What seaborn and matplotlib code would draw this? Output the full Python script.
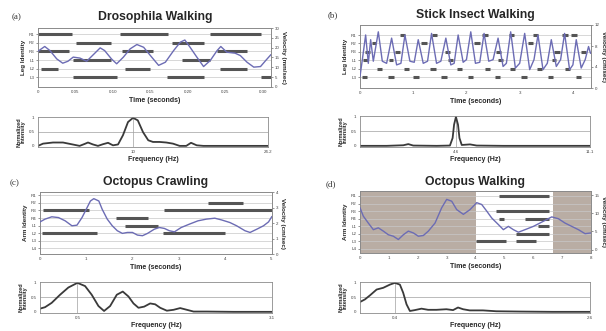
import matplotlib
matplotlib.use("Agg")
import matplotlib.pyplot as plt
import seaborn as sns

sns.set_style("white")
plt.rcParams['font.family'] = ['Liberation Sans', 'DejaVu Sans']

# ---- (a) Drosophila walking ----
dros_legs = ["L3", "L2", "L1", "R3", "R2", "R1"]
dros_bars = [(6, 0.0, 0.045), (6, 0.110, 0.174), (6, 0.230, 0.297),
             (5, 0.051, 0.098), (5, 0.179, 0.221),
             (4, 0.0, 0.042), (4, 0.112, 0.154), (4, 0.239, 0.279),
             (3, 0.047, 0.098), (3, 0.192, 0.230),
             (2, 0.004, 0.027), (2, 0.116, 0.150), (2, 0.243, 0.279),
             (1, 0.047, 0.105), (1, 0.172, 0.221), (1, 0.297, 0.311)]
dros_t = [0, 0.009, 0.016, 0.025, 0.033, 0.040, 0.047, 0.056, 0.065, 0.074, 0.083, 0.089,
          0.098, 0.105, 0.114, 0.123, 0.132, 0.141, 0.150, 0.161, 0.170, 0.181, 0.190, 0.196,
          0.203, 0.212, 0.221, 0.230, 0.239, 0.244, 0.252, 0.263, 0.270, 0.279, 0.288, 0.297,
          0.304, 0.311]
dros_v = [18.2, 20.6, 18.5, 14.3, 12.1, 13.1, 15.2, 14.7, 13.1, 16.5, 19.9, 18.5, 14.3, 11.8,
          15.2, 19.4, 21.6, 20.2, 16.0, 11.0, 12.6, 18.5, 22.8, 23.9, 20.2, 15.2, 10.4, 13.5,
          18.5, 20.6, 17.7, 17.2, 16.0, 12.6, 10.1, 10.4, 13.5, 16.5]
dros_f = [0, 0.53, 1.58, 2.63, 3.51, 4.38, 4.91, 5.26, 5.79, 6.31, 6.84, 7.37, 7.89, 8.42,
          8.94, 9.47, 10.0, 10.5, 11.05, 11.6, 12.1, 12.8, 13.5, 14.2, 14.9, 15.6, 16.1, 16.7,
          17.4, 18.4, 19.8, 21.2, 22.6, 24.2]
dros_i = [0, 0.08, 0.12, 0.12, 0.06, 0, 0.07, 0.12, 0.05, 0, 0.06, 0.11, 0.02, 0.05, 0.38,
          0.85, 1.0, 0.91, 0.49, 0.2, 0.14, 0.14, 0.12, 0.08, 0, 0, 0.11, 0.02, 0, 0, 0, 0, 0, 0]

# ---- (b) Stick insect walking ----
stick_legs = ["L3", "L2", "L1", "R3", "R2", "R1"]
stick_bars = [(6, 0.75, 0.85), (6, 1.35, 1.45), (6, 2.30, 2.40), (6, 2.80, 2.90), (6, 3.25, 3.35),
              (6, 3.80, 3.90), (6, 3.97, 4.07),
              (5, 0.22, 0.30), (5, 1.15, 1.25), (5, 2.15, 2.25), (5, 3.15, 3.25),
              (4, 0.10, 0.18), (4, 0.65, 0.75), (4, 1.60, 1.70), (4, 2.55, 2.65), (4, 3.65, 3.75),
              (4, 4.15, 4.25),
              (3, 0.05, 0.15), (3, 0.55, 0.62), (3, 1.65, 1.75), (3, 2.60, 2.68), (3, 3.60, 3.68),
              (2, 0.32, 0.42), (2, 0.82, 0.92), (2, 1.32, 1.42), (2, 1.82, 1.92), (2, 2.35, 2.45),
              (2, 2.82, 2.92), (2, 3.32, 3.42), (2, 3.85, 3.95),
              (1, 0.03, 0.13), (1, 0.53, 0.63), (1, 1.0, 1.1), (1, 1.53, 1.63), (1, 2.03, 2.13),
              (1, 2.53, 2.63), (1, 3.03, 3.13), (1, 3.53, 3.63), (1, 4.05, 4.15)]
stick_t = [0, 0.044, 0.106, 0.156, 0.2, 0.25, 0.344, 0.419, 0.5, 0.594, 0.688, 0.769, 0.844,
           0.938, 1.019, 1.094, 1.188, 1.269, 1.344, 1.438, 1.519, 1.613, 1.706, 1.769, 1.844,
           1.938, 2.0, 2.081, 2.169, 2.25, 2.331, 2.419, 2.5, 2.594, 2.688, 2.75, 2.831, 2.919,
           3.0, 3.094, 3.188, 3.269, 3.344, 3.438, 3.519, 3.594, 3.688, 3.769, 3.844, 3.938,
           4.0, 4.063, 4.156, 4.231, 4.294, 4.331]
stick_v = [2.2, 5.4, 10.1, 4.7, 9.2, 5.1, 10.7, 5.1, 4.7, 9.5, 4.4, 4.7, 10.1, 5.1, 4.9, 9.2,
           4.7, 5.1, 10.4, 4.7, 5.1, 9.5, 4.4, 4.7, 10.1, 4.9, 5.4, 10.7, 4.7, 4.9, 10.4, 5.1,
           5.4, 9.5, 4.1, 4.7, 10.7, 3.8, 4.7, 10.4, 3.5, 5.4, 10.1, 3.5, 4.7, 9.2, 4.1, 5.4,
           10.4, 3.5, 4.4, 9.2, 3.8, 5.4, 7.9, 6.6]
stick_f = [0, 1.29, 2.09, 2.33, 2.57, 3.70, 4.34, 4.47, 4.54, 4.63, 4.73, 4.80, 4.91, 5.31,
           5.63, 6.92, 8.53, 11.1]
stick_i = [0, 0, 0.02, 0.06, 0.01, 0, 0.01, 0.27, 0.73, 1.0, 0.73, 0.27, 0.03, 0.05, 0.01, 0, 0, 0]

# ---- (c) Octopus crawling ----
arms = ["L4", "L3", "L2", "L1", "R4", "R3", "R2", "R1"]
crawl_bars = [(7, 3.64, 4.40), (6, 0.07, 1.05), (6, 2.69, 5.02), (5, 1.65, 2.33),
              (4, 1.85, 2.55), (3, 0.05, 1.24), (3, 2.67, 4.00)]
crawl_t = [0, 0.109, 0.255, 0.4, 0.545, 0.691, 0.8, 0.909, 1.018, 1.091, 1.164, 1.273, 1.345,
           1.455, 1.564, 1.673, 1.782, 1.891, 2.0, 2.109, 2.218, 2.327, 2.473, 2.582, 2.691,
           2.8, 2.909, 3.055, 3.236, 3.418, 3.6, 3.782, 3.927, 4.109, 4.255, 4.436, 4.545,
           4.691, 4.836, 4.945, 5.018]
crawl_v = [2.07, 2.25, 2.40, 2.35, 2.14, 1.82, 1.86, 2.35, 2.99, 3.42, 3.57, 3.42, 2.89, 2.25,
           1.82, 1.50, 1.33, 1.39, 1.39, 1.22, 1.18, 1.33, 1.60, 1.71, 1.65, 1.50, 1.43, 1.71,
           1.93, 2.14, 2.25, 2.31, 2.20, 2.03, 1.82, 1.50, 1.39, 1.60, 1.82, 2.07, 2.42]
crawl_f = [0, 0.067, 0.156, 0.268, 0.379, 0.5, 0.602, 0.691, 0.781, 0.856, 0.937, 1.026, 1.106,
           1.182, 1.249, 1.316, 1.392, 1.472, 1.539, 1.606, 1.695, 1.784, 1.873, 1.963, 2.052,
           2.230, 2.587, 3.1]
crawl_i = [0.11, 0.16, 0.31, 0.59, 0.84, 1.0, 0.89, 0.59, 0.2, 0.03, 0.2, 0.59, 0.7, 0.53,
           0.29, 0.14, 0.18, 0.29, 0.26, 0.14, 0.04, 0.07, 0.13, 0.07, 0.01, 0.01, 0, 0]

# ---- (d) Octopus walking ----
walk_bars = [(8, 4.83, 6.56), (6, 4.72, 6.56), (5, 4.83, 5.0), (5, 5.70, 6.56),
             (4, 6.16, 6.56), (3, 5.41, 6.56), (2, 4.03, 5.06), (2, 5.41, 6.08)]
walk_shade = [(0, 4.0), (6.7, 8.0)]
walk_t = [0, 0.115, 0.289, 0.462, 0.635, 0.808, 0.982, 1.155, 1.328, 1.501, 1.674, 1.848,
          2.021, 2.194, 2.367, 2.598, 2.829, 3.002, 3.176, 3.349, 3.580, 3.811, 4.042, 4.215,
          4.388, 4.561, 4.792, 4.965, 5.138, 5.312, 5.485, 5.716, 6.005, 6.351, 6.640, 6.871,
          7.102, 7.333, 7.564, 7.794, 8.0]
walk_v = [11.5, 9.2, 7.3, 5.5, 6.0, 5.1, 4.1, 3.7, 2.8, 4.1, 5.1, 4.6, 3.7, 3.9, 5.1, 7.3, 11.5,
          13.8, 13.3, 11.0, 9.7, 11.0, 12.9, 12.4, 10.6, 8.7, 6.9, 5.5, 6.4, 5.5, 4.8, 5.5, 6.4,
          7.8, 9.0, 8.5, 7.3, 6.4, 5.5, 4.4, 4.6]
walk_f = [0, 0.056, 0.113, 0.188, 0.263, 0.338, 0.394, 0.451, 0.488, 0.526, 0.564, 0.620,
          0.695, 0.770, 0.864, 0.977, 1.052, 1.108, 1.165, 1.240, 1.390, 1.541, 1.804, 2.179, 2.6]
walk_i = [0.34, 0.43, 0.57, 0.77, 0.83, 0.94, 1.0, 0.94, 0.66, 0.26, 0.03, 0.06, 0.11, 0.07,
          0.07, 0.09, 0.06, 0.15, 0.09, 0.05, 0.05, 0.02, 0.01, 0, 0]

W, H = 606, 331
fig = plt.figure(figsize=(W / 100, H / 100), dpi=100)

BAR = "#555555"
VEL = "#6c6cb4"
GRID = "#c8c8c8"
EDGE = "#8a8a8a"


def box(x0, y0, x1, y1):
    return fig.add_axes([x0 / W, 1 - y1 / H, (x1 - x0) / W, (y1 - y0) / H])


def style(ax):
    for s in ax.spines.values():
        s.set_color(EDGE)
        s.set_linewidth(0.6)
    ax.tick_params(labelsize=3.2, length=1.5, width=0.4, pad=1, colors="#444")


def gait(ax, bars, names, t, v, xlim, ylim, vlim, xticks, vticks, ylabel, vlabel, shade=None):
    style(ax)
    if shade:
        for a, b in shade:
            ax.axvspan(a, b, color="#b9ada4", lw=0, zorder=0)
    for k in range(1, len(names) + 1):
        ax.axhline(k, color=GRID, lw=0.5, zorder=1)
    for lev, a, b in bars:
        ax.hlines(lev, a, b, color=BAR, lw=2.2, zorder=2)
    ax.set_xlim(*xlim)
    ax.set_ylim(*ylim)
    ax.set_yticks(range(1, len(names) + 1))
    ax.set_yticklabels(names)
    ax.set_xticks(xticks)
    ax.set_xlabel("Time (seconds)", fontsize=5, fontweight="bold", labelpad=1.5)
    ax.set_ylabel(ylabel, fontsize=4.5, fontweight="bold", labelpad=2)
    ax2 = ax.twinx()
    style(ax2)
    sns.lineplot(x=t, y=v, ax=ax2, color=VEL, lw=1.0, sort=False, zorder=3)
    ax2.set_ylim(*vlim)
    ax2.set_yticks(vticks)
    ax2.set_ylabel(vlabel, fontsize=4.5, fontweight="bold", rotation=270, labelpad=5)
    return ax2


def spectrum(ax, f, i, peak, fmax, plabel, mlabel):
    style(ax)
    ax.axhline(0.5, color="#a0a0a0", lw=0.5)
    ax.axvline(peak, color="#a0a0a0", lw=0.5)
    sns.lineplot(x=f, y=i, ax=ax, color="#3a3a3a", lw=1.3)
    ax.set_xlim(0, fmax)
    ax.set_ylim(-0.04, 1.03)
    ax.set_xticks([peak, fmax])
    ax.set_xticklabels([plabel, mlabel])
    ax.set_yticks([0, 0.5, 1])
    ax.set_yticklabels(["0", "0.5", "1"])
    ax.set_xlabel("Frequency (Hz)", fontsize=5, fontweight="bold", labelpad=1)
    ax.set_ylabel("Normalized\nIntensity", fontsize=4, fontweight="bold", labelpad=2,
                  linespacing=0.9)


# (a)
ax = box(38, 28, 271, 87)
gait(ax, dros_bars, dros_legs, dros_t, dros_v, (0, 0.311), (-0.1, 6.7), (0, 30),
     [0, 0.05, 0.10, 0.15, 0.20, 0.25, 0.30], [0, 5, 10, 15, 20, 25, 30],
     "Leg Identity", "Velocity (mm/sec)")
ax.set_xticklabels(["0", "0.05", "0.10", "0.15", "0.20", "0.25", "0.30"])
spectrum(box(38, 117, 268, 147), dros_f, dros_i, 10.0, 24.2, "10", "24.2")

# (b)
ax = box(360, 25, 591, 88)
gait(ax, stick_bars, stick_legs, stick_t, stick_v, (0, 4.34), (-0.3, 7.2), (0, 12),
     [0, 1, 2, 3, 4], [0, 4, 8, 12], "Leg Identity", "Velocity (cm/sec)")
spectrum(box(360, 116, 590, 147), stick_f, stick_i, 4.63, 11.1, "4.6", "11.1")

# (c)
ax = box(40, 192, 272, 254)
gait(ax, crawl_bars, arms, crawl_t, crawl_v, (0, 5.02), (0.26, 8.44), (0, 4),
     [0, 1, 2, 3, 4, 5], [0, 1, 2, 3, 4], "Arm Identity", "Velocity (cm/sec)")
spectrum(box(40, 282, 272, 313), crawl_f, crawl_i, 0.5, 3.1, "0.5", "3.1")

# (d)
ax = box(360, 191, 591, 253)
gait(ax, walk_bars, arms, walk_t, walk_v, (0, 8.0), (0.47, 8.66), (-0.9, 16.1),
     [0, 1, 2, 3, 4, 5, 6, 7, 8], [0, 5, 10, 15], "Arm Identity", "Velocity (cm/sec)",
     shade=walk_shade)
spectrum(box(360, 282, 590, 313), walk_f, walk_i, 0.4, 2.6, "0.4", "2.6")

# titles and panel letters
titles = ["Drosophila Walking", "Stick Insect Walking", "Octopus Crawling", "Octopus Walking"]
letters = ["(a)", "(b)", "(c)", "(d)"]
title_xy = [(155, 17), (475, 15), (156, 182), (475, 182)]
letter_xy = [(12, 17), (328, 15), (10, 183), (326, 184)]
for s, (x, y) in zip(titles, title_xy):
    fig.text(x / W, 1 - y / H, s, ha="center", va="center", fontsize=8.8, fontweight="bold")
for s, (x, y) in zip(letters, letter_xy):
    fig.text(x / W, 1 - y / H, s, ha="left", va="center", fontsize=6.5,
             family="Liberation Serif", color="#333")

fig.savefig("out.png", dpi=100)
